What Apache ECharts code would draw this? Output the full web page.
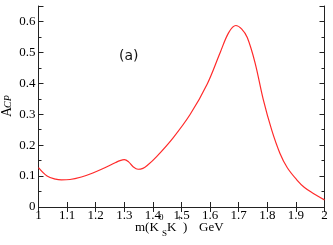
<!DOCTYPE html>
<html><head><meta charset="utf-8">
<script src="https://cdn.jsdelivr.net/npm/echarts@6/dist/echarts.min.js"></script>
<style>html,body{margin:0;padding:0;background:#fff}#c{width:333px;height:245px}</style>
</head><body><div id="c"></div>
<script>
const mass = [1.00,1.03,1.06,1.08,1.11,1.15,1.19,1.23,1.27,1.285,1.30,1.315,1.33,1.348,1.365,1.38,1.413,1.47,1.53,1.59,1.635,1.665,1.69,1.71,1.73,1.757,1.786,1.815,1.844,1.87,1.903,1.93,1.961,2.00];
const acp  = [0.127,0.100,0.090,0.088,0.089,0.097,0.110,0.126,0.144,0.150,0.153,0.146,0.131,0.122,0.125,0.134,0.163,0.223,0.299,0.398,0.499,0.564,0.587,0.576,0.548,0.467,0.347,0.250,0.174,0.127,0.088,0.063,0.044,0.023];
const xTicks = ['1','1.1','1.2','1.3','1.4','1.5','1.6','1.7','1.8','1.9','2'];
const yTicks = ['0','0.1','0.2','0.3','0.4','0.5','0.6'];

const chart = echarts.init(document.getElementById('c'));
const axisCol = '#222';
const serif = "'Liberation Serif', 'Times New Roman', serif";
const fmtX = v => { const s = (+v).toFixed(1).replace(/\.0$/,''); return xTicks.includes(s) ? s : ''; };
const fmtY = v => { const r = Math.round(v*100)/100; const s = r === 0 ? '0' : String(r); return yTicks.includes(s) ? s : ''; };
const grid = {left:38.5, right:8.5, top:6, bottom:38};
chart.setOption({
  animation:false,
  textStyle:{fontFamily:serif},
  grid: grid,
  xAxis: [
    {type:'value', min:1, max:2, interval:0.1, position:'bottom',
     axisLine:{lineStyle:{color:axisCol,width:1}}, axisTick:{inside:true,length:5,lineStyle:{color:axisCol}},
     axisLabel:{formatter:fmtX, color:'#000', fontFamily:serif, fontSize:13, margin:2, showMaxLabel:true},
     splitLine:{show:false}},
    {type:'value', min:1, max:2, interval:0.1, position:'top',
     axisLine:{lineStyle:{color:axisCol,width:1}}, axisTick:{inside:true,length:5,lineStyle:{color:axisCol}},
     axisLabel:{show:false}, splitLine:{show:false}}
  ],
  yAxis: [
    {type:'value', min:0, max:0.65, interval:0.1, position:'left',
     axisLine:{show:true,lineStyle:{color:axisCol,width:1}}, axisTick:{inside:true,length:5,lineStyle:{color:axisCol}},
     minorTick:{show:true,splitNumber:2,length:3,lineStyle:{color:axisCol}},
     axisLabel:{formatter:fmtY, color:'#000', fontFamily:serif, fontSize:13, margin:3, showMaxLabel:false},
     splitLine:{show:false}, minorSplitLine:{show:false}},
    {type:'value', min:0, max:0.65, interval:0.1, position:'right',
     axisLine:{show:true,lineStyle:{color:axisCol,width:1}}, axisTick:{inside:true,length:5,lineStyle:{color:axisCol}},
     minorTick:{show:true,splitNumber:2,length:3,lineStyle:{color:axisCol}},
     axisLabel:{show:false}, splitLine:{show:false}, minorSplitLine:{show:false}}
  ],
  series: [{
    type:'line', smooth:0.35, symbol:'none', xAxisIndex:0, yAxisIndex:0,
    data: mass.map((m,i)=>[m,acp[i]]),
    lineStyle:{color:'#ff2a2a', width:1.2}
  }],
  graphic: [
    {type:'text', left:119, top:49, style:{text:'(a)', fontFamily:"'DejaVu Sans', sans-serif", fontSize:14, fill:'#111'}},
    {type:'text', x:0, y:117, rotation:Math.PI/2, style:{text:'A', fontFamily:serif, fontSize:14, fill:'#000'}},
    {type:'text', x:3, y:108, rotation:Math.PI/2, style:{text:'CP', fontFamily:serif, fontSize:10, fontStyle:'italic', fill:'#000'}},
    {type:'text', x:135, y:221, style:{text:'m(K', fontFamily:serif, fontSize:13, fill:'#000'}},
    {type:'text', x:159, y:213, style:{text:'0', fontFamily:serif, fontSize:9, fill:'#000'}},
    {type:'text', x:162, y:229, style:{text:'S', fontFamily:serif, fontSize:9, fill:'#000'}},
    {type:'text', x:167, y:221, style:{text:'K', fontFamily:serif, fontSize:13, fill:'#000'}},
    {type:'text', x:177, y:213, style:{text:'+', fontFamily:serif, fontSize:9, fill:'#000'}},
    {type:'text', x:183, y:221, style:{text:')', fontFamily:serif, fontSize:13, fill:'#000'}},
    {type:'text', x:199, y:221, style:{text:'GeV', fontFamily:serif, fontSize:13, fill:'#000'}}
  ]
});
</script></body></html>
